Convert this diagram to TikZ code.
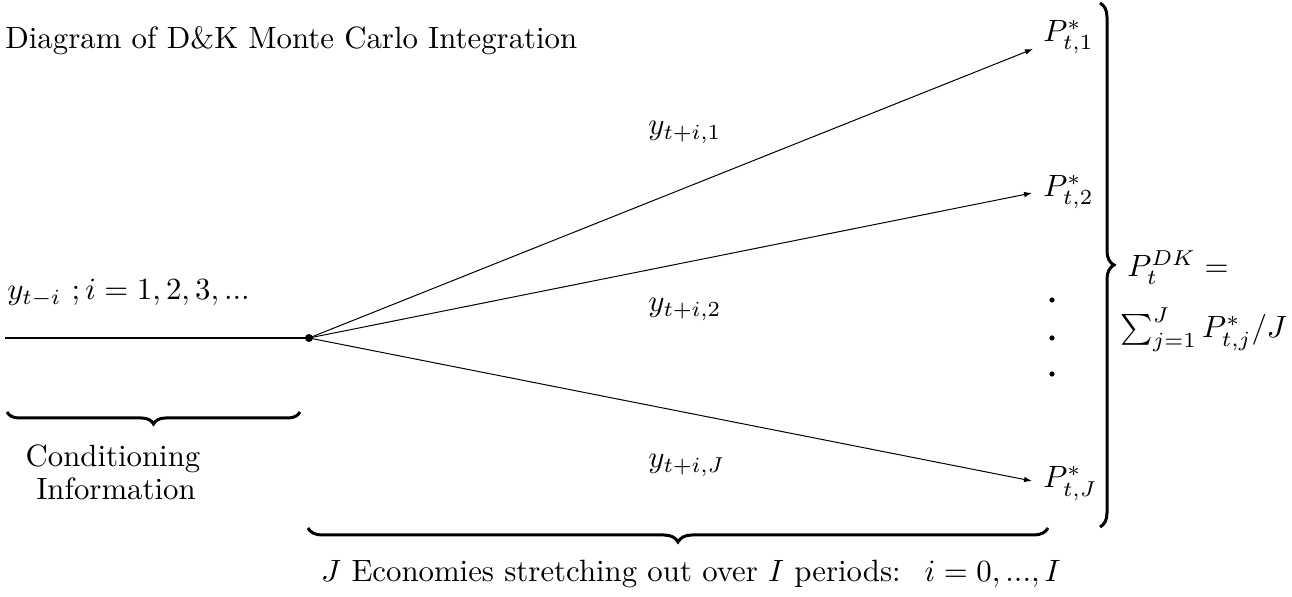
\documentclass[tikz,border=0pt]{standalone}
\usetikzlibrary{decorations.pathreplacing,arrows.meta}
\newcommand{\BT}[1]{\scalebox{1.54}{#1}}
\begin{document}
\begin{tikzpicture}[x=0.5pt,y=-0.5pt,
  big/.style={font=\fontsize{10}{12}\selectfont, inner sep=0pt},
  arr/.style={line width=0.5pt, -{Latex[length=4pt,width=2.8pt]}},
  brc/.style={decorate, decoration={brace, amplitude=#1}, line width=1.5pt},
  brcm/.style={decorate, decoration={brace, mirror, amplitude=#1}, line width=1.5pt},
  dotnode/.style={circle, fill=black, inner sep=0pt, minimum size=#1},
  ]
\useasboundingbox (0,0) rectangle (1292,597);

% title
\node[big, anchor=base west] (title) at (5,49) {\BT{Diagram of D\&K Monte Carlo Integration}};

% conditioning information
\node[big, anchor=base west] (cond) at (7,300) {\BT{$y_{t-i}$ $;i=1,2,3,...$}};
\coordinate (s) at (5,338);
\node[dotnode=4pt] (o) at (309,338) {};
\draw[line width=0.8pt] (s) -- (o.center);

% endpoints
\coordinate (e1) at (1033,49);
\coordinate (e2) at (1032,193);
\coordinate (eJ) at (1032,481);
\draw[arr] (o.center) -- (e1);
\draw[arr] (o.center) -- (e2);
\draw[arr] (o.center) -- (eJ);

% edge labels
\node[big, anchor=base west] (l1) at (648,135) {\BT{$y_{t+i,1}$}};
\node[big, anchor=base west] (l2) at (648,312) {\BT{$y_{t+i,2}$}};
\node[big, anchor=base west] (lJ) at (648,468) {\BT{$y_{t+i,J}$}};

% end labels
\node[big, anchor=base west] (P1) at (1043,42) {\BT{$P^*_{t,1}$}};
\node[big, anchor=base west] (P2) at (1043,197) {\BT{$P^*_{t,2}$}};
\node[big, anchor=base west] (PJ) at (1043,488) {\BT{$P^*_{t,J}$}};

% vertical dots
\node[dotnode=2.6pt] (d1) at (1052,300) {};
\node[dotnode=2.6pt] (d2) at (1052,338) {};
\node[dotnode=2.6pt] (d3) at (1052,374) {};

% right brace and average
\draw[brc=7pt] (1100,3) -- (1100,527);
\node[big, anchor=base west] (pdk) at (1127,277) {\BT{$P_t^{DK} =$}};
\node[big, anchor=base west] (sum) at (1120,338) {\BT{$\sum_{j=1}^J P^*_{t,j}/J$}};

% left brace
\draw[brcm=6pt] (7,412) -- (300,412);
\node[big, anchor=base] (c1) at (113,467) {\BT{Conditioning}};
\node[big, anchor=base] (c2) at (116,500) {\BT{Information}};

% bottom brace
\draw[brcm=7pt] (308,528) -- (1048,528);
\node[big, anchor=base] (bot) at (691,582) {\BT{$J$ Economies stretching out over $I$ periods: \ $i=0,...,I$}};
\end{tikzpicture}
\end{document}
